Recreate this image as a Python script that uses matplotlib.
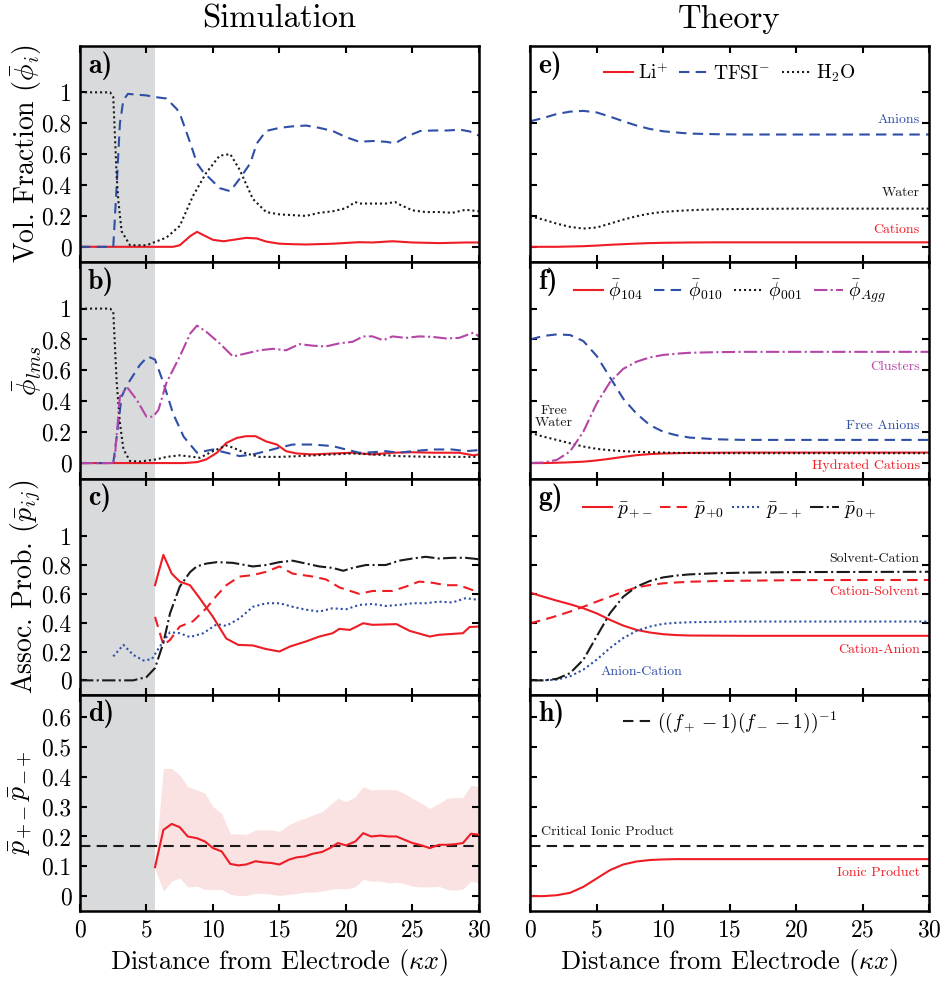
import numpy as np
import matplotlib
matplotlib.use("Agg")
import matplotlib.pyplot as plt

plt.rcParams['font.family'] = 'serif'
plt.rcParams['font.serif'] = ['cmr10']
plt.rcParams['mathtext.fontset'] = 'cm'
plt.rcParams['axes.formatter.use_mathtext'] = True

RED = '#ee1c25'
BLUE = '#2f4ea6'
MAG = '#b545a6'
BLK = '#1a1a1a'
SHADE = 5.64

# ---------------- Simulation data ----------------
# a) volume fractions
a_x_h2o = [0, 2.26, 2.5, 2.76, 2.88, 3.13, 3.76, 5.0, 6.5, 7.5, 8.5, 9.5, 10.5, 11.3, 12, 13, 14, 15, 16, 17, 18, 19, 20,
           20.7, 21, 22, 23, 23.7, 24, 25, 26, 27, 28, 29, 30]
a_h2o = [1.0, 1.0, 0.97, 0.45, 0.3, 0.1, 0.01, 0.01, 0.06, 0.135, 0.33, 0.48, 0.59, 0.6, 0.5, 0.31, 0.225, 0.21, 0.205,
         0.2, 0.22, 0.23, 0.25, 0.29, 0.28, 0.28, 0.28, 0.29, 0.275, 0.236, 0.225, 0.225, 0.22, 0.24, 0.23]
a_x_tfsi = [0, 2.5, 2.76, 3.0, 3.26, 3.6, 5.0, 5.6, 6.5, 7.3, 7.6, 8.3, 8.8, 9.3, 9.8, 10.5, 11.3, 12, 12.8, 13.3, 14, 15,
            16, 17, 18, 19, 20, 21, 22, 23, 23.7, 24.6, 25.6, 26.6, 27.6, 28.6, 29.3, 30]
a_tfsi = [0, 0, 0.4, 0.8, 0.95, 0.99, 0.98, 0.97, 0.96, 0.89, 0.84, 0.67, 0.54, 0.48, 0.44, 0.38, 0.36, 0.44, 0.54, 0.67,
          0.75, 0.77, 0.78, 0.785, 0.77, 0.75, 0.71, 0.68, 0.685, 0.68, 0.67, 0.715, 0.75, 0.753, 0.753, 0.758, 0.747, 0.72]
a_x_li = [0, 7.0, 7.5, 8.3, 8.8, 9.3, 10, 10.8, 11.5, 12.5, 13.3, 14, 15, 16, 17, 19, 21, 22, 23.5, 25, 27, 29, 30]
a_li = [0, 0, 0.01, 0.07, 0.097, 0.075, 0.045, 0.036, 0.045, 0.058, 0.054, 0.034, 0.02, 0.017, 0.015, 0.02, 0.03, 0.028,
        0.036, 0.028, 0.024, 0.028, 0.028]

# b) cluster-resolved fractions
b_x_001 = [0, 2.26, 2.5, 2.76, 3.0, 3.26, 3.76, 4.5, 5.76, 6.5, 7.5, 8.5, 9, 10, 11, 11.5, 12.5, 13.5, 15, 16.5, 19, 20.5,
           22, 24, 26.5, 30]
b_001 = [1.0, 1.0, 0.98, 0.52, 0.26, 0.09, 0.013, 0.01, 0.024, 0.04, 0.05, 0.04, 0.034, 0.077, 0.114, 0.1, 0.062, 0.04,
         0.04, 0.045, 0.056, 0.062, 0.056, 0.045, 0.04, 0.04]
b_x_010 = [0, 2.5, 2.76, 3.13, 3.5, 4.5, 5.1, 5.64, 6.27, 7, 7.8, 8.8, 10, 11, 12, 13, 14, 15, 16, 17.5, 19, 20, 21, 22,
           23, 24, 25, 26.5, 28, 29, 30]
b_010 = [0, 0, 0.17, 0.43, 0.5, 0.635, 0.69, 0.67, 0.52, 0.32, 0.17, 0.067, 0.088, 0.067, 0.045, 0.056, 0.077, 0.1, 0.12,
         0.12, 0.11, 0.088, 0.067, 0.07, 0.077, 0.067, 0.077, 0.088, 0.088, 0.077, 0.084]
b_x_agg = [0, 2.4, 2.6, 3.0, 3.26, 3.6, 4.26, 5.0, 5.5, 5.9, 6.5, 7.5, 8.3, 8.8, 9.5, 10.5, 11.5, 12.5, 13.5, 14.5, 15.5,
           16.5, 17.5, 18.5, 19.5, 20.5, 21.3, 22, 22.8, 23.5, 24.5, 25.5, 26.5, 27.5, 28.5, 29.6, 30]
b_agg = [0, 0, 0.02, 0.43, 0.46, 0.485, 0.41, 0.3, 0.3, 0.345, 0.52, 0.69, 0.84, 0.89, 0.85, 0.775, 0.69, 0.71, 0.73, 0.74,
         0.73, 0.77, 0.76, 0.755, 0.775, 0.785, 0.82, 0.82, 0.795, 0.82, 0.81, 0.82, 0.817, 0.807, 0.81, 0.845, 0.82]
b_x_104 = [0, 7.8, 8.8, 9.5, 10.3, 11, 11.8, 12.5, 13.2, 14, 14.8, 15.5, 16.3, 17.5, 19, 20.5, 22, 23.5, 25, 26.5, 28.5,
           29.6, 30]
b_104 = [0, 0, 0.006, 0.024, 0.067, 0.13, 0.163, 0.174, 0.174, 0.14, 0.12, 0.077, 0.062, 0.056, 0.062, 0.067, 0.056, 0.067,
         0.07, 0.067, 0.067, 0.05, 0.056]

# c) association probabilities
c_x_0p = [0, 4, 5, 5.64, 6.27, 6.77, 7.5, 8.27, 8.77, 9.5, 10.3, 11.5, 13, 14, 15, 16, 17, 18, 19, 19.8, 20.5, 21.5, 23,
          24, 25, 26, 27, 28, 29, 30]
c_0p = [0, 0, 0.023, 0.085, 0.26, 0.465, 0.65, 0.75, 0.79, 0.81, 0.82, 0.815, 0.79, 0.8, 0.82, 0.83, 0.81, 0.79, 0.78,
        0.76, 0.78, 0.8, 0.8, 0.83, 0.845, 0.857, 0.845, 0.85, 0.85, 0.84]
c_x_pm = [5.64, 6.27, 6.9, 7.5, 8.27, 9, 10, 11, 11.9, 13, 14, 15, 15.8, 17, 18, 19, 19.5, 20.3, 21.3, 22, 23.8, 24.8,
          26.3, 27, 28.8, 29.3, 30]
c_pm = [0.66, 0.87, 0.74, 0.685, 0.66, 0.57, 0.44, 0.29, 0.246, 0.242, 0.217, 0.2, 0.235, 0.27, 0.304, 0.327, 0.357,
        0.35, 0.396, 0.385, 0.39, 0.343, 0.304, 0.316, 0.327, 0.37, 0.373]
c_x_p0 = [5.64, 6.27, 6.77, 7.5, 8.5, 9.5, 10.3, 11, 12, 13, 14, 15, 16, 17.5, 18.5, 19.5, 21, 22, 23.5, 24.5, 25.5, 26.5,
          27.5, 28.5, 29.5, 30]
c_p0 = [0.44, 0.246, 0.28, 0.373, 0.41, 0.5, 0.59, 0.66, 0.72, 0.73, 0.753, 0.79, 0.74, 0.72, 0.7, 0.645, 0.6, 0.62, 0.62,
        0.65, 0.685, 0.677, 0.66, 0.66, 0.627, 0.615]
c_x_mp = [2.5, 3.26, 4, 4.76, 5.4, 6, 6.77, 7.5, 8.27, 9.27, 10.3, 11, 12, 13, 14, 15, 16, 17, 18, 19, 20, 21, 22, 23, 24,
          25, 26, 27, 28, 29, 30]
c_mp = [0.166, 0.246, 0.177, 0.138, 0.147, 0.235, 0.334, 0.327, 0.3, 0.327, 0.39, 0.378, 0.43, 0.51, 0.535, 0.535, 0.51,
        0.49, 0.477, 0.5, 0.493, 0.523, 0.53, 0.516, 0.523, 0.535, 0.535, 0.546, 0.54, 0.57, 0.558]

# d) ionic product with spread
d_x = [5.64, 6.27, 6.9, 7.5, 8.1, 8.8, 9.4, 10, 10.65, 11.3, 11.9, 12.5, 13.2, 13.8, 14.4, 15, 15.7, 16.3, 16.9, 17.5,
       18.2, 18.8, 19.4, 20, 20.7, 21.3, 21.9, 22.6, 23.2, 23.8, 24.4, 25, 25.7, 26.3, 27, 27.6, 28.2, 28.8, 29.4, 30]
d_mean = [0.097, 0.222, 0.242, 0.231, 0.2, 0.194, 0.183, 0.161, 0.15, 0.108, 0.103, 0.106, 0.117, 0.113, 0.111, 0.106,
          0.122, 0.13, 0.133, 0.142, 0.148, 0.161, 0.178, 0.17, 0.183, 0.211, 0.2, 0.203, 0.2, 0.2, 0.189, 0.178, 0.17,
          0.161, 0.172, 0.172, 0.174, 0.178, 0.209, 0.206]
d_upper = [0.11, 0.428, 0.428, 0.406, 0.367, 0.356, 0.344, 0.3, 0.278, 0.209, 0.209, 0.206, 0.222, 0.222, 0.222, 0.217,
           0.239, 0.252, 0.261, 0.272, 0.283, 0.306, 0.328, 0.317, 0.333, 0.367, 0.356, 0.358, 0.358, 0.356, 0.344, 0.328,
           0.311, 0.294, 0.311, 0.328, 0.33, 0.331, 0.372, 0.367]
d_lower = [0.09, 0.017, 0.05, 0.061, 0.031, 0.033, 0.022, 0.022, 0.022, 0.006, 0.002, 0.002, 0.009, 0.009, 0.006, 0.002,
           0.006, 0.009, 0.013, 0.013, 0.017, 0.022, 0.026, 0.024, 0.031, 0.056, 0.05, 0.05, 0.044, 0.047, 0.042, 0.033,
           0.031, 0.031, 0.033, 0.022, 0.02, 0.024, 0.05, 0.044]
critical = 0.1667

# ---------------- Theory data ----------------
t_x = [0, 1, 2, 3, 4, 5, 6, 7, 8, 9, 10, 11, 12, 14, 16, 20, 25, 30]
e_li = [0, 0, 0, 0.002, 0.004, 0.008, 0.013, 0.017, 0.021, 0.024, 0.026, 0.027, 0.028, 0.029, 0.029, 0.029, 0.029, 0.029]
e_tfsi = [0.813, 0.834, 0.86, 0.875, 0.88, 0.87, 0.843, 0.813, 0.785, 0.763, 0.748, 0.74, 0.733, 0.729, 0.727, 0.727,
          0.727, 0.727]
e_h2o = [0.198, 0.176, 0.15, 0.129, 0.118, 0.125, 0.15, 0.176, 0.198, 0.215, 0.226, 0.232, 0.237, 0.243, 0.245, 0.247,
         0.247, 0.247]

f_104 = [0, 0, 0.002, 0.005, 0.009, 0.017, 0.028, 0.04, 0.051, 0.058, 0.062, 0.064, 0.066, 0.067, 0.068, 0.068, 0.068,
         0.068]
f_010 = [0.8, 0.823, 0.833, 0.829, 0.79, 0.694, 0.556, 0.417, 0.32, 0.246, 0.203, 0.18, 0.165, 0.154, 0.15, 0.15, 0.15,
         0.15]
f_001 = [0.197, 0.171, 0.15, 0.128, 0.107, 0.092, 0.083, 0.077, 0.073, 0.07, 0.068, 0.066, 0.065, 0.064, 0.064, 0.064,
         0.064, 0.064]
f_agg = [0, 0.004, 0.02, 0.075, 0.203, 0.385, 0.523, 0.61, 0.656, 0.684, 0.7, 0.708, 0.714, 0.718, 0.72, 0.72, 0.72, 0.72]

g_pm = [0.608, 0.58, 0.553, 0.528, 0.5, 0.465, 0.42, 0.38, 0.35, 0.332, 0.32, 0.314, 0.311, 0.31, 0.309, 0.309, 0.309,
        0.309]
g_p0 = [0.396, 0.42, 0.447, 0.477, 0.51, 0.546, 0.58, 0.615, 0.645, 0.661, 0.673, 0.679, 0.684, 0.689, 0.691, 0.695,
        0.696, 0.696]
g_mp = [0, 0, 0.005, 0.028, 0.074, 0.143, 0.224, 0.293, 0.343, 0.373, 0.392, 0.399, 0.403, 0.406, 0.408, 0.408, 0.408,
        0.408]
g_0p = [0, 0, 0.01, 0.05, 0.143, 0.304, 0.465, 0.58, 0.65, 0.689, 0.714, 0.727, 0.735, 0.743, 0.747, 0.751, 0.752, 0.753]

h_ionic = [0, 0, 0.003, 0.011, 0.031, 0.059, 0.087, 0.106, 0.116, 0.121, 0.123, 0.124, 0.124, 0.124, 0.124, 0.124, 0.124,
           0.124]

# ---------------- Figure ----------------
fig = plt.figure(figsize=(9.47, 9.85), dpi=100)
gs = fig.add_gridspec(4, 2, left=0.0845, right=0.981, top=0.9533, bottom=0.0751, hspace=0, wspace=0.1285)
axes = np.array([[fig.add_subplot(gs[r, c]) for c in range(2)] for r in range(4)])

LW = 1.5
dot = (0, (1, 1.4))
dash = (0, (5, 3))

# a
ax = axes[0, 0]
ax.plot(a_x_li, a_li, color=RED, lw=LW)
ax.plot(a_x_tfsi, a_tfsi, color=BLUE, lw=LW, ls=dash)
ax.plot(a_x_h2o, a_h2o, color=BLK, lw=LW, ls=dot)
ax.set_ylabel(r'Vol. Fraction $(\bar{\phi}_i)$')

# b
ax = axes[1, 0]
ax.plot(b_x_104, b_104, color=RED, lw=LW)
ax.plot(b_x_010, b_010, color=BLUE, lw=LW, ls=dash)
ax.plot(b_x_001, b_001, color=BLK, lw=LW, ls=dot)
ax.plot(b_x_agg, b_agg, color=MAG, lw=LW, ls='-.')
ax.set_ylabel(r'$\bar{\phi}_{lms}$')

# c
ax = axes[2, 0]
ax.plot(c_x_pm, c_pm, color=RED, lw=LW)
ax.plot(c_x_p0, c_p0, color=RED, lw=LW, ls=dash)
ax.plot(c_x_mp, c_mp, color=BLUE, lw=LW, ls=dot)
ax.plot(c_x_0p, c_0p, color=BLK, lw=LW, ls='-.')
ax.set_ylabel(r'Assoc. Prob. $(\bar{p}_{ij})$')

# d
ax = axes[3, 0]
ax.fill_between(d_x, d_lower, d_upper, color='#fbe2e2', lw=0, zorder=1)
ax.plot(d_x, d_mean, color=RED, lw=LW, zorder=3)
ax.axhline(critical, color=BLK, lw=LW, ls=dash, zorder=2)
ax.set_ylabel(r'$\bar{p}_{+-}\bar{p}_{-+}$')

# e
ax = axes[0, 1]
ax.plot(t_x, e_li, color=RED, lw=LW, label=r'Li$^{+}$')
ax.plot(t_x, e_tfsi, color=BLUE, lw=LW, ls=dash, label=r'TFSI$^{-}$')
ax.plot(t_x, e_h2o, color=BLK, lw=LW, ls=dot, label=r'H$_2$O')
ax.text(29.3, 0.82, 'Anions', color=BLUE, ha='right', va='center', fontsize=10)
ax.text(29.3, 0.35, 'Water', color=BLK, ha='right', va='center', fontsize=10)
ax.text(29.3, 0.11, 'Cations', color=RED, ha='right', va='center', fontsize=10)

# f
ax = axes[1, 1]
ax.plot(t_x, f_104, color=RED, lw=LW, label=r'$\bar{\phi}_{104}$')
ax.plot(t_x, f_010, color=BLUE, lw=LW, ls=dash, label=r'$\bar{\phi}_{010}$')
ax.plot(t_x, f_001, color=BLK, lw=LW, ls=dot, label=r'$\bar{\phi}_{001}$')
ax.plot(t_x, f_agg, color=MAG, lw=LW, ls='-.', label=r'$\bar{\phi}_{Agg}$')
ax.text(29.3, 0.625, 'Clusters', color=MAG, ha='right', va='center', fontsize=10)
ax.text(29.3, 0.24, 'Free Anions', color=BLUE, ha='right', va='center', fontsize=10)
ax.text(29.3, -0.017, 'Hydrated Cations', color=RED, ha='right', va='center', fontsize=10)
ax.text(1.8, 0.30, 'Free\nWater', color=BLK, ha='center', va='center', fontsize=10, linespacing=1.0)

# g
ax = axes[2, 1]
ax.plot(t_x, g_pm, color=RED, lw=LW, label=r'$\bar{p}_{+-}$')
ax.plot(t_x, g_p0, color=RED, lw=LW, ls=dash, label=r'$\bar{p}_{+0}$')
ax.plot(t_x, g_mp, color=BLUE, lw=LW, ls=dot, label=r'$\bar{p}_{-+}$')
ax.plot(t_x, g_0p, color=BLK, lw=LW, ls='-.', label=r'$\bar{p}_{0+}$')
ax.text(29.3, 0.84, 'Solvent-Cation', color=BLK, ha='right', va='center', fontsize=10)
ax.text(29.3, 0.61, 'Cation-Solvent', color=RED, ha='right', va='center', fontsize=10)
ax.text(29.3, 0.21, 'Cation-Anion', color=RED, ha='right', va='center', fontsize=10)
ax.text(8.4, 0.06, 'Anion-Cation', color=BLUE, ha='center', va='center', fontsize=10)

# h
ax = axes[3, 1]
ax.plot(t_x, h_ionic, color=RED, lw=LW)
ax.axhline(critical, color=BLK, lw=LW, ls=dash, label=r'$((f_+-1)(f_--1))^{-1}$')
ax.text(0.8, 0.216, 'Critical Ionic Product', color=BLK, ha='left', va='center', fontsize=10)
ax.text(29.3, 0.076, 'Ionic Product', color=RED, ha='right', va='center', fontsize=10)

leg_y = [0.875, 0.867, 0.856, 0.872]
leg_sp = [0.6, 0.6, 0.4, 0.6]
for r in range(4):
    axes[r, 1].legend(loc='center', bbox_to_anchor=(0.5, leg_y[r]), ncol=4, frameon=False, fontsize=14,
                      handlelength=1.5, handletextpad=0.25, columnspacing=leg_sp[r], borderpad=0)

letters = ['a', 'b', 'c', 'd', 'e', 'f', 'g', 'h']
for c in range(2):
    for r in range(4):
        ax = axes[r, c]
        ax.set_xlim(0, 30)
        ax.set_xticks(range(0, 31, 5))
        if r < 2:
            ax.set_ylim(-0.1, 1.3)
            ax.set_yticks([0, 0.2, 0.4, 0.6, 0.8, 1])
            ax.set_yticklabels(['0', '0.2', '0.4', '0.6', '0.8', '1'])
        elif r == 2:
            ax.set_ylim(-0.1, 1.4)
            ax.set_yticks([0, 0.2, 0.4, 0.6, 0.8, 1])
            ax.set_yticklabels(['0', '0.2', '0.4', '0.6', '0.8', '1'])
        else:
            ax.set_ylim(-0.05, 0.675)
            ax.set_yticks([0, 0.1, 0.2, 0.3, 0.4, 0.5, 0.6])
            ax.set_yticklabels(['0', '0.1', '0.2', '0.3', '0.4', '0.5', '0.6'])
        ax.tick_params(direction='in', top=True, right=True, length=5, width=1.5, labelsize=17, pad=6)
        for s in ax.spines.values():
            s.set_linewidth(1.8)
        if c == 0:
            ax.axvspan(0, SHADE, color='#d9dadc', lw=0, zorder=0)
            ax.yaxis.set_label_coords(-0.115 if r == 3 else -0.09, 0.5)
            ax.yaxis.label.set_size(20)
        else:
            ax.set_yticklabels([])
        if r < 3:
            ax.set_xticklabels([])
        else:
            ax.set_xlabel(r'Distance from Electrode $(\kappa x)$', fontsize=19)
        ax.text(0.02, 0.91, letters[c * 4 + r] + ')', transform=ax.transAxes, fontsize=20,
                family='cmb10', ha='left', va='center')

axes[0, 0].set_title('Simulation', fontsize=23.5, pad=13)
axes[0, 1].set_title('Theory', fontsize=23.5, pad=13)

fig.savefig('out.png', dpi=100)
